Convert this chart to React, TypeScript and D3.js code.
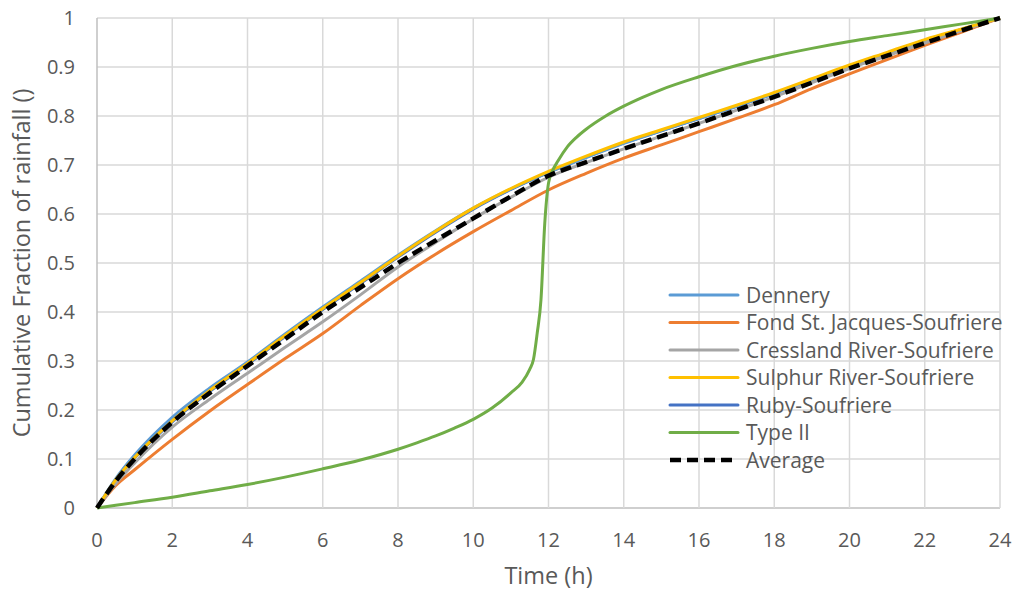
import React from "react";
import * as d3 from "d3";

const times = [0, 0.5, 1, 2, 3, 4, 5, 6, 7, 8, 9, 10, 11, 12, 13, 14, 15, 16, 17, 18, 19, 20, 21, 22, 23, 24];
const dennery = [0, 0.06, 0.108, 0.185, 0.245, 0.298, 0.355, 0.41, 0.463, 0.516, 0.566, 0.612, 0.651, 0.685, 0.715, 0.744, 0.77, 0.795, 0.82, 0.846, 0.874, 0.902, 0.928, 0.954, 0.977, 1];
const fond = [0, 0.046, 0.078, 0.14, 0.198, 0.252, 0.305, 0.356, 0.413, 0.468, 0.518, 0.564, 0.607, 0.649, 0.683, 0.714, 0.741, 0.768, 0.795, 0.823, 0.856, 0.886, 0.915, 0.944, 0.972, 1];
const cressland = [0, 0.05, 0.092, 0.165, 0.222, 0.275, 0.328, 0.38, 0.435, 0.492, 0.542, 0.59, 0.634, 0.675, 0.705, 0.733, 0.759, 0.785, 0.812, 0.839, 0.868, 0.897, 0.923, 0.949, 0.975, 1];
const sulphur = [0, 0.058, 0.103, 0.178, 0.24, 0.295, 0.352, 0.407, 0.46, 0.514, 0.565, 0.612, 0.652, 0.687, 0.718, 0.747, 0.772, 0.797, 0.822, 0.848, 0.876, 0.904, 0.93, 0.956, 0.978, 1];
const ruby = [0, 0.057, 0.102, 0.176, 0.238, 0.293, 0.35, 0.405, 0.458, 0.512, 0.563, 0.61, 0.65, 0.685, 0.716, 0.745, 0.77, 0.795, 0.82, 0.846, 0.874, 0.902, 0.928, 0.954, 0.977, 1];
const average = [0, 0.055, 0.1, 0.175, 0.235, 0.29, 0.345, 0.4, 0.45, 0.5, 0.546, 0.591, 0.636, 0.678, 0.706, 0.733, 0.759, 0.785, 0.812, 0.839, 0.868, 0.897, 0.923, 0.949, 0.975, 1];

const typeIITimes = [0, 1, 2, 3, 4, 5, 6, 7, 8, 8.5, 9, 9.5, 10, 10.5, 11, 11.3, 11.5, 11.6, 11.7, 11.8, 11.9, 12, 12.1, 12.25, 12.5, 12.75, 13, 13.5, 14, 14.5, 15, 16, 17, 18, 19, 20, 21, 22, 23, 24];
const typeII = [0, 0.011, 0.022, 0.035, 0.048, 0.063, 0.08, 0.098, 0.12, 0.133, 0.147, 0.163, 0.181, 0.204, 0.235, 0.257, 0.283, 0.303, 0.357, 0.425, 0.58, 0.663, 0.687, 0.708, 0.737, 0.757, 0.773, 0.799, 0.82, 0.838, 0.854, 0.88, 0.903, 0.922, 0.938, 0.952, 0.964, 0.976, 0.988, 1];

const xTicks = [0, 2, 4, 6, 8, 10, 12, 14, 16, 18, 20, 22, 24];
const yTicks = [0, 0.1, 0.2, 0.3, 0.4, 0.5, 0.6, 0.7, 0.8, 0.9, 1];

const seriesNames = ["Dennery", "Fond St. Jacques-Soufriere", "Cressland River-Soufriere", "Sulphur River-Soufriere", "Ruby-Soufriere", "Type II", "Average"];
const seriesColors = ["#5b9bd5", "#ed7d31", "#a5a5a5", "#ffc000", "#4472c4", "#70ad47", "#000000"];

const W = 1015, H = 592;
const left = 97, right = 1000, top = 18, bottom = 508;
const FONT = "'Open Sans', sans-serif";
const TXT = "#595959";
const FS = 20;
const FS_LEG = 21;
const FS_TITLE = 23.5;

export default function App() {
  const x = d3.scaleLinear().domain([0, 24]).range([left, right]);
  const y = d3.scaleLinear().domain([0, 1]).range([bottom, top]);
  const line = d3.line<[number, number]>().x(d => x(d[0])).y(d => y(d[1])).curve(d3.curveMonotoneX);

  const stations: { name: string; color: string; t: number[]; v: number[]; dashed?: boolean }[] = [
    { name: seriesNames[4], color: seriesColors[4], t: times, v: ruby },
    { name: seriesNames[0], color: seriesColors[0], t: times, v: dennery },
    { name: seriesNames[1], color: seriesColors[1], t: times, v: fond },
    { name: seriesNames[2], color: seriesColors[2], t: times, v: cressland },
    { name: seriesNames[3], color: seriesColors[3], t: times, v: sulphur },
    { name: seriesNames[5], color: seriesColors[5], t: typeIITimes, v: typeII },
    { name: seriesNames[6], color: seriesColors[6], t: times, v: average, dashed: true },
  ];

  const legX = 670, legY0 = 295, legStep = 27.5;

  return (
    <svg width={W} height={H} style={{ position: "absolute", left: 0, top: 0, background: "#fff" }}>
      <rect x={0} y={0} width={W} height={H} fill="#fff" />
      {yTicks.map(t => (
        <line key={"gy" + t} x1={left} x2={right} y1={y(t)} y2={y(t)} stroke={t === 0 ? "#bfbfbf" : "#d9d9d9"} strokeWidth={1.5} />
      ))}
      {xTicks.map(t => (
        <line key={"gx" + t} x1={x(t)} x2={x(t)} y1={top} y2={bottom} stroke={t === 0 ? "#bfbfbf" : "#d9d9d9"} strokeWidth={1.5} />
      ))}
      {yTicks.map(t => (
        <text key={"ly" + t} x={75} y={y(t)} dy="0.36em" textAnchor="end" fontFamily={FONT} fontSize={FS} fill={TXT}>
          {d3.format("~g")(t)}
        </text>
      ))}
      {xTicks.map(t => (
        <text key={"lx" + t} x={x(t)} y={547} textAnchor="middle" fontFamily={FONT} fontSize={FS} fill={TXT}>
          {t}
        </text>
      ))}
      {stations.map(s => (
        <path
          key={s.name}
          d={line(s.t.map((t, i) => [t, s.v[i]] as [number, number])) || ""}
          fill="none"
          stroke={s.color}
          strokeWidth={s.dashed ? 4.5 : 3}
          strokeDasharray={s.dashed ? "11 6" : undefined}
          strokeLinejoin="round"
        />
      ))}
      <text x={x(12)} y={584} textAnchor="middle" fontFamily={FONT} fontSize={FS_TITLE} fill={TXT}>Time (h)</text>
      <text transform={`translate(30,${(top + bottom) / 2}) rotate(-90)`} textAnchor="middle" fontFamily={FONT} fontSize={FS_TITLE} fill={TXT}>
        Cumulative Fraction of rainfall ()
      </text>
      {seriesNames.map((n, i) => {
        const ly = legY0 + i * legStep;
        const dashed = i === 6;
        return (
          <g key={"leg" + n}>
            <line x1={legX} x2={738} y1={ly} y2={ly} stroke={seriesColors[i]} strokeWidth={dashed ? 4.5 : 3}
              strokeDasharray={dashed ? "11 6" : undefined} strokeLinecap={dashed ? "butt" : "round"} />
            <text x={746} y={ly} dy="0.36em" fontFamily={FONT} fontSize={FS_LEG} fill={TXT}>{n}</text>
          </g>
        );
      })}
    </svg>
  );
}
